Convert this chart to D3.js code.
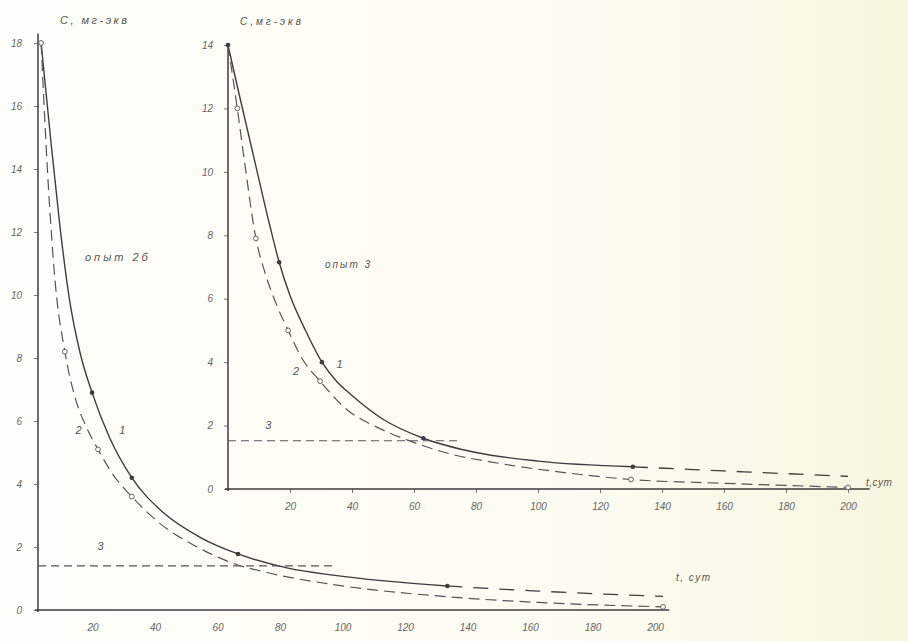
<!DOCTYPE html>
<html>
<head>
<meta charset="utf-8">
<style>
    body { margin: 0; background: #fcfbf3; }
    svg { display: block; }
    .lbl { font-family: 'Liberation Sans', Arial, sans-serif; font-style: italic; fill: #555; }
    .tick text { font-family: 'Liberation Sans', Arial, sans-serif; font-style: italic; fill: #666; font-size: 10px; }
    .tick line { stroke: #777; }
</style>
</head>
<body>
<svg width="908" height="641"></svg>
<script src="https://d3js.org/d3.v7.min.js"></script>
<script>
// ---- data ----
// experiment 2b (big panel)
let mainT1 = [1, 4, 7, 10, 13.5, 17.3, 23, 30, 40, 52, 64, 80, 95, 131, 160, 200]
let mainC1 = [18, 15.0, 12.2, 9.9, 8.15, 6.9, 5.45, 4.2, 3.1, 2.3, 1.78, 1.33, 1.1, 0.76, 0.6, 0.43]
let mainT2 = [1, 3, 5.5, 8.6, 12, 15.5, 19.2, 24, 30, 39, 50, 62, 75, 95, 131, 160, 200]
let mainC2 = [18, 14.0, 10.4, 8.2, 6.7, 5.8, 5.1, 4.3, 3.6, 2.75, 2.05, 1.5, 1.15, 0.8, 0.42, 0.24, 0.1]
let mainDotsT = [17.3, 30, 64, 131]
let mainDotsC = [6.9, 4.2, 1.78, 0.76]
let mainRingsT = [1, 8.6, 19.2, 30, 200]
let mainRingsC = [18, 8.2, 5.1, 3.6, 0.1]
let mainLevel = 1.4, mainLevelEnd = 95

// experiment 3 (inset)
let inT1 = [0, 3, 8, 13.5, 16.5, 20, 25, 30.3, 35, 40, 50, 63, 80, 100, 130.6, 160, 200]
let inC1 = [14, 12.7, 10.6, 8.3, 7.15, 6.1, 5.0, 4.0, 3.4, 2.95, 2.2, 1.6, 1.15, 0.88, 0.7, 0.57, 0.4]
let inT2 = [0, 3, 5.5, 9, 12, 15.5, 19.4, 24, 29.7, 38.4, 48, 57.7, 70, 88, 110, 130, 160, 200]
let inC2 = [14, 12.0, 10.2, 7.9, 6.8, 5.85, 5.0, 4.1, 3.4, 2.5, 1.95, 1.55, 1.15, 0.8, 0.5, 0.3, 0.18, 0.05]
let inDotsT = [0, 16.5, 30.3, 63, 130.6]
let inDotsC = [14, 7.15, 4.0, 1.6, 0.7]
let inRingsT = [3, 9, 19.4, 29.7, 130, 200]
let inRingsC = [12.0, 7.9, 5.0, 3.4, 0.3, 0.05]
let inLevel = 1.52, inLevelEnd = 75

let mainYTicks = [0, 2, 4, 6, 8, 10, 12, 14, 16, 18]
let inYTicks = [0, 2, 4, 6, 8, 10, 12, 14]
let xTicks = [20, 40, 60, 80, 100, 120, 140, 160, 180, 200]

let solidEnd1 = 131, inSolidEnd1 = 130.6

let svg = d3.select("svg")

// paper tone
let grad = svg.append("defs").append("linearGradient").attr("id", "paper")
grad.append("stop").attr("offset", "0%").attr("stop-color", "#fefefa")
grad.append("stop").attr("offset", "65%").attr("stop-color", "#fcfbf1")
grad.append("stop").attr("offset", "100%").attr("stop-color", "#f8f5de")
svg.append("rect").attr("width", 908).attr("height", 641).attr("fill", "url(#paper)")

let ink = "#3d3d3d"
let zip = (ts, cs) => ts.map((t, i) => [t, cs[i]])

function panel(x, y, opt) {
    let g = svg.append("g")

    // axes
    let ya = g.append("g").attr("transform", `translate(${x(0)},0)`)
        .call(d3.axisLeft(y).tickValues(opt.yTicks).tickSize(4).tickPadding(opt.yPad).tickFormat(d3.format("d")))
    ya.select(".domain").remove()
    let xa = g.append("g").attr("transform", `translate(0,${y(0)})`)
        .call(d3.axisBottom(x).tickValues(xTicks).tickSize(opt.xTick).tickPadding(opt.xPad))
    xa.select(".domain").remove()
    xa.selectAll("text").attr("dx", opt.xdx)

    g.append("line").attr("x1", x(0)).attr("x2", x(0)).attr("y1", y(0) + 2).attr("y2", y(opt.yTop))
        .attr("stroke", ink).attr("stroke-width", 1.5)
    g.append("line").attr("x1", x(0) - 3).attr("x2", x(opt.xEnd)).attr("y1", y(0)).attr("y2", y(0))
        .attr("stroke", ink).attr("stroke-width", 1.6)

    let line = d3.line().x(d => x(d[0])).y(d => y(d[1])).curve(d3.curveMonotoneX)

    // curve 1: solid, then long dashes
    let c1 = zip(opt.t1, opt.c1)
    g.append("path").attr("d", line(c1.filter(d => d[0] <= opt.solidEnd)))
        .attr("fill", "none").attr("stroke", ink).attr("stroke-width", 1.4)
    g.append("path").attr("d", line(c1.filter(d => d[0] >= opt.solidEnd)))
        .attr("fill", "none").attr("stroke", ink).attr("stroke-width", 1.3).attr("stroke-dasharray", "15,11")

    // curve 2: dashed
    g.append("path").attr("d", line(zip(opt.t2, opt.c2)))
        .attr("fill", "none").attr("stroke", "#555").attr("stroke-width", 1.2).attr("stroke-dasharray", "11,6")

    // line 3
    g.append("line").attr("x1", x(0)).attr("x2", x(opt.levelEnd)).attr("y1", y(opt.level)).attr("y2", y(opt.level))
        .attr("stroke", "#555").attr("stroke-width", 1.1).attr("stroke-dasharray", "8,5")

    g.selectAll(".dot").data(zip(opt.dotsT, opt.dotsC)).join("circle")
        .attr("cx", d => x(d[0])).attr("cy", d => y(d[1])).attr("r", 2.3).attr("fill", ink)
    g.selectAll(".ring").data(zip(opt.ringsT, opt.ringsC)).join("circle")
        .attr("cx", d => x(d[0])).attr("cy", d => y(d[1])).attr("r", 2.4)
        .attr("fill", "#fdfdf6").attr("stroke", "#555").attr("stroke-width", 0.9)
    return g
}

// big panel
let xMain = d3.scaleLinear().domain([0, 200]).range([38, 663])
let yMain = d3.scaleLinear().domain([0, 18]).range([610, 43])
panel(xMain, yMain, {
    yTicks: mainYTicks, yPad: 12, xTick: 0, xPad: 14, xdx: "-8", yTop: 18.3, xEnd: 202,
    t1: mainT1, c1: mainC1, t2: mainT2, c2: mainC2, solidEnd: solidEnd1,
    level: mainLevel, levelEnd: mainLevelEnd,
    dotsT: mainDotsT, dotsC: mainDotsC, ringsT: mainRingsT, ringsC: mainRingsC
})

// inset panel
let xIn = d3.scaleLinear().domain([0, 200]).range([228, 848])
let yIn = d3.scaleLinear().domain([0, 14]).range([489, 45])
panel(xIn, yIn, {
    yTicks: inYTicks, yPad: 11, xTick: 4, xPad: 10, xdx: "0", yTop: 14, xEnd: 207,
    t1: inT1, c1: inC1, t2: inT2, c2: inC2, solidEnd: inSolidEnd1,
    level: inLevel, levelEnd: inLevelEnd,
    dotsT: inDotsT, dotsC: inDotsC, ringsT: inRingsT, ringsC: inRingsC
})

// hand lettering
let txt = (x, y, s, size, sp) => svg.append("text").attr("class", "lbl").attr("x", x).attr("y", y)
    .attr("font-size", size || 10).attr("letter-spacing", sp || 0).text(s)
txt(60, 24, "C, мг-экв", 11, 2.5)
txt(240, 25, "C,мг-экв", 10, 3)
txt(676, 581, "t, сут", 10, 1.5)
txt(866, 486, "t,сут", 10, 0.5)
txt(85, 261, "опыт 2б", 11, 3)
txt(325, 268, "опыт 3", 10, 2)
txt(xMain(12), yMain(5.6), "2", 11)
txt(xMain(26), yMain(5.6), "1", 11)
txt(xMain(19), yMain(1.9), "3", 11)
txt(xIn(21), yIn(3.6), "2", 11)
txt(xIn(35), yIn(3.8), "1", 11)
txt(xIn(12), yIn(1.9), "3", 11)
</script>
</body>
</html>
